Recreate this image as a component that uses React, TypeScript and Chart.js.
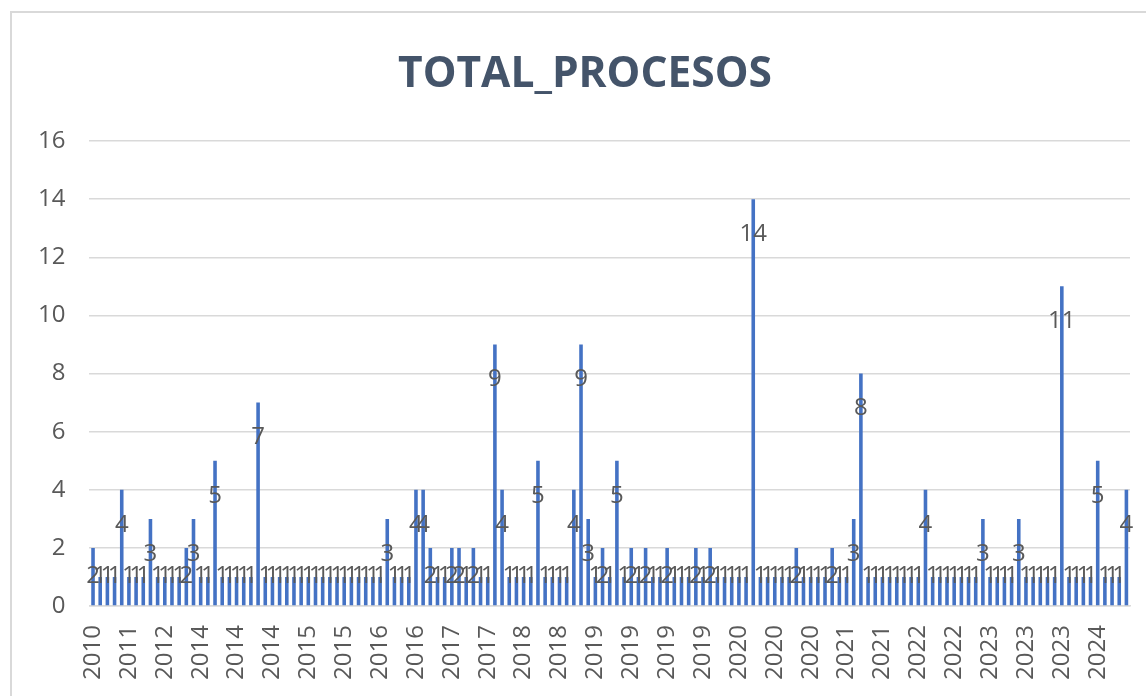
import React, { useEffect, useRef } from "react";
import { Chart, registerables } from "chart.js";

Chart.register(...registerables);

const chartTitle = "TOTAL_PROCESOS";

// Visible x-axis tick labels (one every 5 bars)
const tickYears: string[] = [
  "2010", "2011", "2012", "2014", "2014", "2014", "2015", "2015", "2016", "2016",
  "2017", "2017", "2018", "2018", "2019", "2019", "2019", "2019", "2020", "2020",
  "2020", "2021", "2021", "2022", "2022", "2023", "2023", "2023", "2024",
];

// TOTAL_PROCESOS per record (145 bars)
const totalProcesos: number[] = [
  2, 1, 1, 1, 4, 1, 1, 1, 3, 1,
  1, 1, 1, 2, 3, 1, 1, 5, 1, 1,
  1, 1, 1, 7, 1, 1, 1, 1, 1, 1,
  1, 1, 1, 1, 1, 1, 1, 1, 1, 1,
  1, 3, 1, 1, 1, 4, 4, 2, 1, 1,
  2, 2, 1, 2, 1, 1, 9, 4, 1, 1,
  1, 1, 5, 1, 1, 1, 1, 4, 9, 3,
  1, 2, 1, 5, 1, 2, 1, 2, 1, 1,
  2, 1, 1, 1, 2, 1, 2, 1, 1, 1,
  1, 1, 14, 1, 1, 1, 1, 1, 2, 1,
  1, 1, 1, 2, 1, 1, 3, 8, 1, 1,
  1, 1, 1, 1, 1, 1, 4, 1, 1, 1,
  1, 1, 1, 1, 3, 1, 1, 1, 1, 3,
  1, 1, 1, 1, 1, 11, 1, 1, 1, 1,
  5, 1, 1, 1, 4,
];

const TICK_EVERY = 5;

const FONT = "'Open Sans', 'Noto Sans', sans-serif";
const GRAY = "#595959";

const barLabelPlugin = {
  id: "barLabels",
  afterDatasetsDraw(chart: any) {
    const ctx = chart.ctx;
    const meta = chart.getDatasetMeta(0);
    const zero = chart.scales.y.getPixelForValue(0);
    const data = chart.data.datasets[0].data as number[];
    ctx.save();
    ctx.font = `24px ${FONT}`;
    ctx.fillStyle = GRAY;
    ctx.textAlign = "center";
    ctx.textBaseline = "middle";
    meta.data.forEach((bar: any, i: number) => {
      const y = Math.min(bar.y + 35, zero - 30);
      ctx.fillText(String(data[i]), bar.x, y);
    });
    ctx.restore();
  },
};

// Title centred on the full (cropped) chart frame rather than the canvas padding box
const frameTitlePlugin = {
  id: "frameTitle",
  afterDraw(chart: any) {
    const ctx = chart.ctx;
    ctx.save();
    ctx.font = `bold 42.5px ${FONT}`;
    ctx.fillStyle = "#44546A";
    ctx.textAlign = "center";
    ctx.textBaseline = "alphabetic";
    ctx.fillText(chartTitle, 585, 87);
    ctx.restore();
  },
};

export default function App() {
  const canvasRef = useRef<HTMLCanvasElement | null>(null);

  useEffect(() => {
    const canvas = canvasRef.current;
    if (!canvas) return;
    const labels = totalProcesos.map((_, i) =>
      i % TICK_EVERY === 0 ? tickYears[i / TICK_EVERY] ?? "" : ""
    );
    const chart = new Chart(canvas, {
      type: "bar",
      data: {
        labels,
        datasets: [
          {
            label: chartTitle,
            data: totalProcesos,
            backgroundColor: "#4472C4",
            borderWidth: 0,
            barPercentage: 0.5,
            categoryPercentage: 1,
          },
        ],
      },
      options: {
        responsive: false,
        animation: false,
        devicePixelRatio: 1,
        layout: { padding: { left: 14, right: 40, top: 141, bottom: 30 } },
        plugins: {
          legend: { display: false },
          tooltip: { enabled: false },
          title: { display: false },
        },
        scales: {
          x: {
            grid: { display: false, drawTicks: true, tickLength: 19 },
            border: { display: true, color: "#d9d9d9", width: 1.5 },
            ticks: {
              autoSkip: false,
              maxRotation: 90,
              minRotation: 90,
              padding: 0,
              color: GRAY,
              font: { family: FONT, size: 24 },
            },
          },
          y: {
            min: 0,
            max: 16,
            grid: { color: "#d9d9d9", lineWidth: 1.5, drawTicks: false },
            border: { display: false },
            ticks: {
              stepSize: 2,
              padding: 24,
              color: GRAY,
              font: { family: FONT, size: 24 },
            },
          },
        },
      },
      plugins: [barLabelPlugin, frameTitlePlugin],
    });
    return () => chart.destroy();
  }, []);

  return (
    <div
      style={{
        position: "fixed",
        left: 0,
        top: 0,
        width: 1146,
        height: 696,
        overflow: "hidden",
        background: "#ffffff",
      }}
    >
      <div
        style={{
          position: "absolute",
          left: 10,
          top: 11,
          width: 1200,
          height: 800,
          border: "2px solid #d9d9d9",
          boxSizing: "border-box",
        }}
      />
      <canvas
        ref={canvasRef}
        width={1170}
        height={710}
        style={{ position: "absolute", left: 0, top: 0, width: 1170, height: 710 }}
      />
    </div>
  );
}
